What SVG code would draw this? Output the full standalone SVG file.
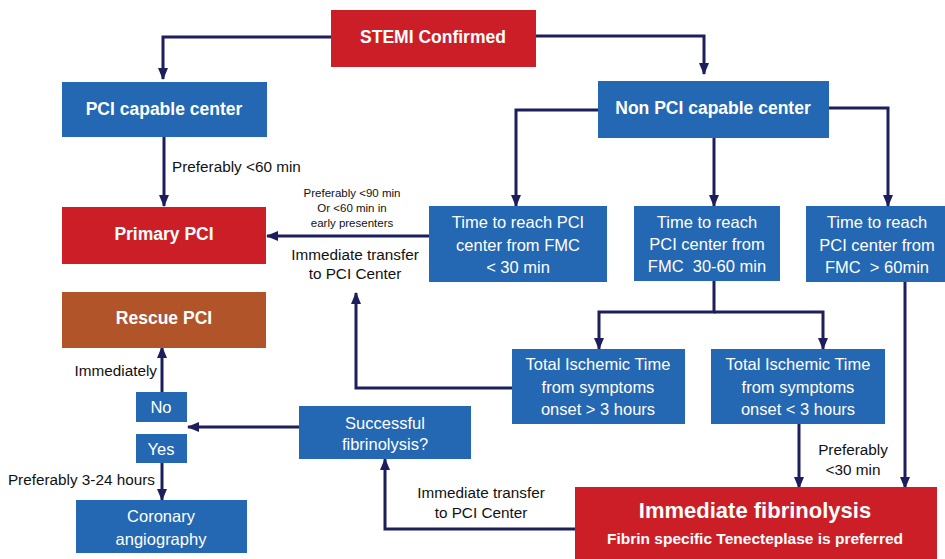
<svg xmlns="http://www.w3.org/2000/svg" width="945" height="559" viewBox="0 0 945 559">
<defs>
<style>
.blue{fill:#2467B2}
.red{fill:#CC1E27}
.brown{fill:#B1542A}
.t{font-family:"Liberation Sans",Arial,sans-serif;fill:#fff;text-anchor:middle;font-size:16.5px}
.b{font-weight:bold;font-size:17.5px}
.lbl{font-family:"Liberation Sans",Arial,sans-serif;fill:#111;font-size:15.3px}
.sm{font-size:11.5px}
.mid{text-anchor:middle}
.end{text-anchor:end}
.pre{white-space:pre}
.c{fill:none;stroke:#1C1F5C;stroke-width:3;marker-end:url(#ah)}
</style>
<marker id="ah" markerUnits="userSpaceOnUse" markerWidth="12" markerHeight="12" viewBox="0 0 12 12" refX="11" refY="6" orient="auto">
<path d="M0,1 L12,6 L0,11 Z" fill="#1C1F5C"/>
</marker>
</defs>
<rect width="945" height="559" fill="#fff"/>

<g id="connectors">
<path class="c" d="M331,37 H163 V79"/>
<path class="c" d="M536,36 H704 V74"/>
<path class="c" d="M164,137 V206"/>
<path class="c" d="M598,110 H516 V206"/>
<path class="c" d="M714,138 V206"/>
<path class="c" d="M829,108 H888 V206"/>
<path class="c" d="M430,236 H267"/>
<path class="c" d="M714,281 V312 H599 V349"/>
<path class="c" d="M714,312 H823 V349"/>
<path class="c" d="M512,388 H356 V293"/>
<path class="c" d="M799,424 V488"/>
<path class="c" d="M905,282 V488"/>
<path class="c" d="M575,529 H385 V459"/>
<path class="c" d="M299,427 H188"/>
<path class="c" d="M162,392 V347"/>
<path class="c" d="M162,463 V500"/>
<text class="lbl" x="172" y="172">Preferably &lt;60 min</text>
<text class="lbl sm mid" x="352" y="197">Preferably &lt;90 min</text>
<text class="lbl sm mid" x="352" y="212">Or &lt;60 min in</text>
<text class="lbl sm mid" x="352" y="227">early presenters</text>
<text class="lbl mid" x="355" y="260">Immediate transfer</text>
<text class="lbl mid" x="355" y="279">to PCI Center</text>
<text class="lbl mid" x="853" y="455">Preferably</text>
<text class="lbl mid" x="853" y="475">&lt;30 min</text>
<text class="lbl mid" x="481" y="498">Immediate transfer</text>
<text class="lbl mid" x="481" y="518">to PCI Center</text>
<text class="lbl end" x="157" y="376">Immediately</text>
<text class="lbl end" x="155" y="485">Preferably 3-24 hours</text>
</g>

<g id="stemi">
<rect class="red" x="331" y="10" width="205" height="57"/>
<text class="t b" x="433" y="43">STEMI Confirmed</text>
</g>
<g id="pci-capable">
<rect class="blue" x="62" y="82" width="205" height="55"/>
<text class="t b" x="164" y="115">PCI capable center</text>
</g>
<g id="non-pci">
<rect class="blue" x="598" y="81" width="231" height="57"/>
<text class="t b" x="713" y="114">Non PCI capable center</text>
</g>
<g id="primary-pci">
<rect class="red" x="62" y="207" width="204" height="57"/>
<text class="t b" x="164" y="240">Primary PCI</text>
</g>
<g id="time-lt30">
<rect class="blue" x="429" y="206" width="178" height="76"/>
<text class="t"><tspan x="518" y="228">Time to reach PCI</tspan><tspan x="518" y="251">center from FMC</tspan><tspan x="518" y="273">&lt; 30 min</tspan></text>
</g>
<g id="time-30-60">
<rect class="blue" x="634" y="206" width="146" height="75"/>
<text class="t pre"><tspan x="707" y="228">Time to reach</tspan><tspan x="707" y="250">PCI center from</tspan><tspan x="707" y="272">FMC  30-60 min</tspan></text>
</g>
<g id="time-gt60">
<rect class="blue" x="806" y="206" width="139" height="76"/>
<text class="t pre"><tspan x="877" y="228">Time to reach</tspan><tspan x="877" y="251">PCI center from</tspan><tspan x="877" y="273">FMC  &gt; 60min</tspan></text>
</g>
<g id="rescue-pci">
<rect class="brown" x="62" y="292" width="204" height="56"/>
<text class="t b" x="164" y="324">Rescue PCI</text>
</g>
<g id="tit-gt3">
<rect class="blue" x="512" y="349" width="173" height="75"/>
<text class="t"><tspan x="598" y="370">Total Ischemic Time</tspan><tspan x="598" y="393">from symptoms</tspan><tspan x="598" y="415">onset &gt; 3 hours</tspan></text>
</g>
<g id="tit-lt3">
<rect class="blue" x="711" y="349" width="174" height="75"/>
<text class="t"><tspan x="798" y="370">Total Ischemic Time</tspan><tspan x="798" y="393">from symptoms</tspan><tspan x="798" y="415">onset &lt; 3 hours</tspan></text>
</g>
<g id="successful">
<rect class="blue" x="299" y="406" width="172" height="53"/>
<text class="t"><tspan x="385" y="429">Successful</tspan><tspan x="385" y="450">fibrinolysis?</tspan></text>
</g>
<g id="no">
<rect class="blue" x="136" y="392" width="51" height="30"/>
<text class="t" x="161" y="413">No</text>
</g>
<g id="yes">
<rect class="blue" x="136" y="434" width="51" height="29"/>
<text class="t" x="161" y="455">Yes</text>
</g>
<g id="coronary">
<rect class="blue" x="76" y="500" width="171" height="53"/>
<text class="t"><tspan x="161" y="522">Coronary</tspan><tspan x="161" y="545">angiography</tspan></text>
</g>
<g id="fibrinolysis">
<rect class="red" x="575" y="487" width="362" height="72"/>
<text class="t b" x="755" y="518" style="font-size:22px">Immediate fibrinolysis</text>
<text class="t b" x="755" y="544" style="font-size:15.5px">Fibrin specific Tenecteplase is preferred</text>
</g>
</svg>
